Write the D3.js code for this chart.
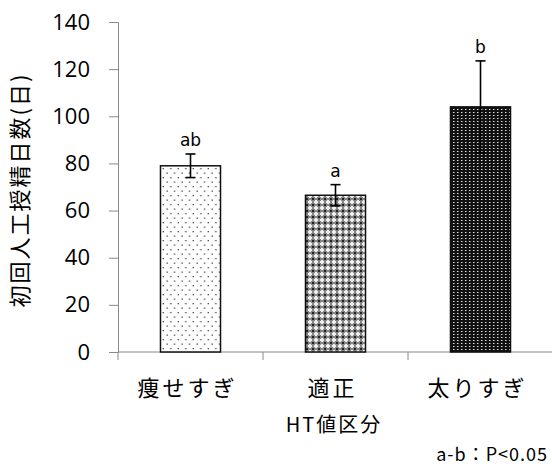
<!DOCTYPE html>
<html>
<head>
<meta charset="utf-8">
<script src="https://cdn.jsdelivr.net/npm/d3@7"></script>
<style>
  html, body { margin: 0; padding: 0; background: #fff; }
  svg { display: block; }
</style>
</head>
<body>
<svg id="chart" width="552" height="468"></svg>
<script>
// Days to first artificial insemination by HT value class
const categories = ["痩せすぎ", "適正", "太りすぎ"];
const means = [79, 66.5, 104];
const errors = [5, 4.5, 19.5];
const letters = ["ab", "a", "b"];
const patternIds = ["dots", "check", "dark"];
const yTicks = [0, 20, 40, 60, 80, 100, 120, 140];

const svg = d3.select("#chart");
const jp = "'Noto Sans CJK JP', sans-serif";
const axisColor = "#8a8a8a";

const x = d3.scaleBand().domain(categories).range([118, 553]).padding(0);
const y = d3.scaleLinear().domain([0, 140]).range([352, 22]);
const barW = x.bandwidth() * 0.414;

// Fill patterns
const defs = svg.append("defs");
const p1 = defs.append("pattern").attr("id", "dots").attr("patternUnits", "userSpaceOnUse")
  .attr("width", 7.5).attr("height", 9);
p1.append("rect").attr("width", 7.5).attr("height", 9).attr("fill", "#fff");
p1.append("rect").attr("x", 1.5).attr("y", 1.5).attr("width", 1.3).attr("height", 1.3).attr("fill", "#444");
p1.append("rect").attr("x", 5.2).attr("y", 6).attr("width", 1.3).attr("height", 1.3).attr("fill", "#444");

const p2 = defs.append("pattern").attr("id", "check").attr("patternUnits", "userSpaceOnUse")
  .attr("width", 6).attr("height", 6);
p2.append("rect").attr("width", 6).attr("height", 6).attr("fill", "#858585");
p2.append("rect").attr("x", 0).attr("y", 0).attr("width", 2).attr("height", 2).attr("fill", "#222");
p2.append("rect").attr("x", 3).attr("y", 2).attr("width", 2).attr("height", 4).attr("fill", "#eee");
p2.append("rect").attr("x", 2).attr("y", 3).attr("width", 4).attr("height", 2).attr("fill", "#eee");

const p3 = defs.append("pattern").attr("id", "dark").attr("patternUnits", "userSpaceOnUse")
  .attr("width", 4).attr("height", 3);
p3.append("rect").attr("width", 4).attr("height", 3).attr("fill", "#111");
p3.append("rect").attr("x", 1).attr("y", 1).attr("width", 1).attr("height", 1).attr("fill", "#ddd");
p3.append("rect").attr("x", 2).attr("y", 1).attr("width", 1).attr("height", 1).attr("fill", "#777");

// Y axis
const yAxis = d3.axisLeft(y).tickValues(yTicks).tickSize(9).tickPadding(19);
const gy = svg.append("g").attr("transform", "translate(118,0)").call(yAxis);
gy.select(".domain").attr("stroke", axisColor);
gy.selectAll(".tick line").attr("stroke", axisColor);
gy.selectAll(".tick text").attr("fill", "#000")
  .style("font-family", "'Open Sans', sans-serif").style("font-size", "22px");

// X axis baseline and boundary ticks
svg.append("line").attr("x1", 118).attr("x2", 553).attr("y1", y(0)).attr("y2", y(0))
  .attr("stroke", axisColor);
const bounds = categories.map(c => x(c)).concat([x.range()[1]]);
svg.selectAll(".xtick").data(bounds).join("line").attr("class", "xtick")
  .attr("x1", d => d).attr("x2", d => d).attr("y1", y(0)).attr("y2", y(0) + 8)
  .attr("stroke", axisColor);

// Bars
const data = categories.map((c, i) => ({ c, m: means[i], e: errors[i], l: letters[i], p: patternIds[i] }));
const cx = d => x(d.c) + x.bandwidth() / 2;

svg.selectAll(".bar").data(data).join("rect").attr("class", "bar")
  .attr("x", d => cx(d) - barW / 2).attr("width", barW)
  .attr("y", d => y(d.m)).attr("height", d => y(0) - y(d.m))
  .attr("fill", d => `url(#${d.p})`).attr("stroke", "#111").attr("stroke-width", 1.5);

// Error bars
const eb = svg.selectAll(".err").data(data).join("g").attr("class", "err")
  .attr("stroke", "#000").attr("stroke-width", 1.6);
eb.append("line").attr("x1", cx).attr("x2", cx)
  .attr("y1", d => y(d.m + d.e)).attr("y2", d => y(d.m - d.e));
eb.append("line").attr("x1", d => cx(d) - 5).attr("x2", d => cx(d) + 5)
  .attr("y1", d => y(d.m + d.e)).attr("y2", d => y(d.m + d.e));
eb.append("line").attr("x1", d => cx(d) - 5).attr("x2", d => cx(d) + 5)
  .attr("y1", d => y(d.m - d.e)).attr("y2", d => y(d.m - d.e));

// Significance letters
svg.selectAll(".sig").data(data).join("text").attr("class", "sig")
  .attr("x", cx).attr("y", d => y(d.m + d.e) - 8)
  .attr("text-anchor", "middle")
  .style("font-family", "'DejaVu Sans', sans-serif").style("font-size", "17px")
  .text(d => d.l);

// Category labels
svg.selectAll(".cat").data(data).join("text").attr("class", "cat")
  .attr("x", d => cx(d) - 3).attr("y", 396)
  .attr("text-anchor", "middle")
  .style("font-family", jp).style("font-size", "22px").style("letter-spacing", "3px")
  .text(d => d.c);

// Axis titles
svg.append("text").attr("x", 334).attr("y", 432).attr("text-anchor", "middle")
  .style("font-family", jp).style("font-size", "20px").style("letter-spacing", "2px")
  .text("HT値区分");

svg.append("text")
  .attr("transform", "translate(28,190) rotate(-90)")
  .attr("text-anchor", "middle")
  .style("font-family", jp).style("font-size", "22px").style("letter-spacing", "2px")
  .text("初回人工授精日数(日)");

svg.append("text").attr("x", 548).attr("y", 461).attr("text-anchor", "end")
  .style("font-family", jp).style("font-size", "18px").style("letter-spacing", "1px")
  .text("a-b：P<0.05");
</script>
</body>
</html>
